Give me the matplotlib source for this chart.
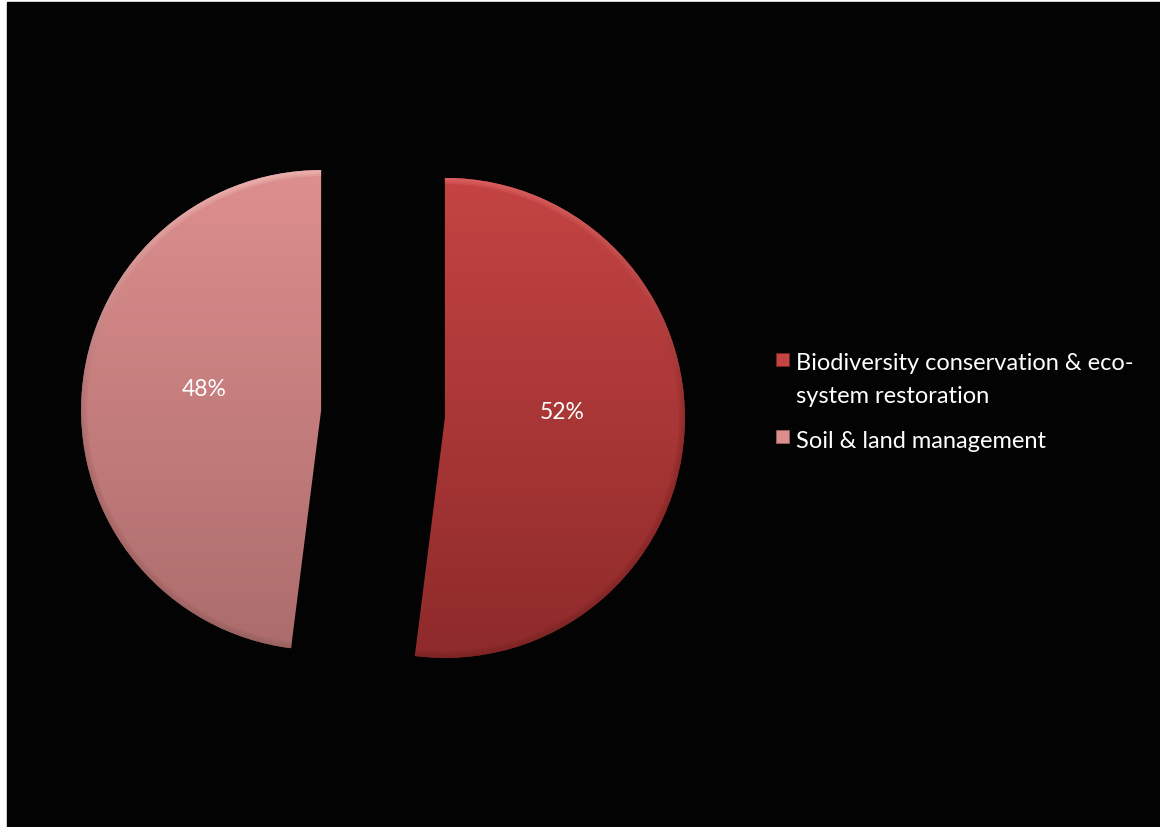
import numpy as np
import matplotlib.pyplot as plt
from matplotlib.patches import Wedge, Rectangle
from matplotlib.colors import LinearSegmentedColormap

plt.rcParams['font.family'] = ['Lato', 'DejaVu Sans']

# Share of funding by theme
categories = ["Biodiversity conservation & eco-\nsystem restoration", "Soil & land management"]
shares = [52, 48]
fill_top = ["#C44443", "#DD8F8E"]
fill_bottom = ["#8E2A2A", "#AC6C6C"]
rim_top = ["#E26868", "#F3BDBA"]
rim_bottom = ["#7A2424", "#96605F"]

W, H = 1160, 828
fig = plt.figure(figsize=(W / 100, H / 100), dpi=100, facecolor="white")
# black slide area, thin white margin on the left and top
fig.patches.append(Rectangle((7 / W, 0), 1 - 7 / W, 1 - 3 / H,
                             transform=fig.transFigure, color="#030303", zorder=-5))

ax = fig.add_axes([0, 0, 1, 1])
ax.axis("off")
ax.patch.set_alpha(0)

cx, cy, r = 383, 413, 240
explode = [62, 62]

wedges, _, autotexts = ax.pie(
    shares, center=(cx, cy), radius=r, startangle=90, counterclock=False,
    explode=explode, autopct="%d%%", pctdistance=0.49,
    textprops=dict(color="white", fontsize=16.5),
    wedgeprops=dict(facecolor="none", edgecolor="none"))

grad = np.linspace(0, 1, 256).reshape(-1, 1)
for i, w in enumerate(wedges):
    x0, y0 = w.center
    ext = (x0 - r, x0 + r, y0 - r, y0 + r)
    cmap = LinearSegmentedColormap.from_list("f%d" % i, [fill_bottom[i], fill_top[i]])
    im = ax.imshow(grad, cmap=cmap, extent=ext, origin="lower", aspect="auto",
                   interpolation="bilinear", zorder=1)
    im.set_clip_path(w)
    # bevelled rim along the outer arc, fading inward
    for k, (wd, a) in enumerate([(6, 0.35), (4, 0.35), (2, 0.4)]):
        rim = Wedge((x0, y0), r, w.theta1, w.theta2, width=wd,
                    facecolor="none", edgecolor="none", transform=ax.transData)
        ax.add_patch(rim)
        rcmap = LinearSegmentedColormap.from_list("r%d%d" % (i, k),
                                                  [rim_bottom[i], fill_bottom[i], rim_top[i]])
        im2 = ax.imshow(grad, cmap=rcmap, extent=ext, origin="lower", aspect="auto",
                        interpolation="bilinear", zorder=2, alpha=a)
        im2.set_clip_path(rim)

for t in autotexts:
    t.set_zorder(5)
    x, y = t.get_position()
    t.set_position((x, y + 14))

# legend drawn by hand so the wrapped label keeps its wide line spacing
first_base = [H - 371, H - 448]
for i, label in enumerate(categories):
    nlines = label.count("\n")
    ax.add_patch(Rectangle((776, first_base[i] + 4), 13, 13, facecolor=fill_top[i],
                           edgecolor=rim_bottom[i], linewidth=0.6, zorder=5))
    ax.text(796, first_base[i] - 32 * nlines, label, color="white", fontsize=17,
            va="baseline", ha="left", linespacing=1.69, zorder=5)

# pie() narrows the view to its own radius, so set pixel limits last
ax.set_xlim(0, W)
ax.set_ylim(0, H)
ax.set_aspect("equal")

fig.savefig("out.png", dpi=100, facecolor="white")
